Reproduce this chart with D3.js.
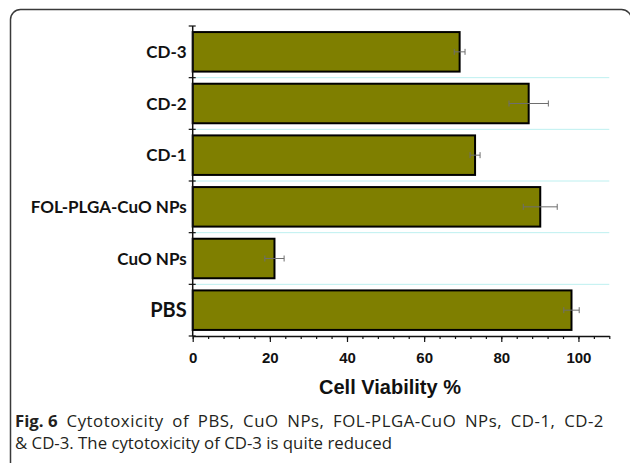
<!DOCTYPE html>
<html>
<head>
<meta charset="utf-8">
<script src="https://cdn.jsdelivr.net/npm/d3@7"></script>
<style>
  body { margin: 0; background: #fff; }
</style>
</head>
<body>
<div id="chart"></div>
<script>
// categories listed top to bottom as drawn
var categories = ["CD-3", "CD-2", "CD-1", "FOL-PLGA-CuO NPs", "CuO NPs", "PBS"];
var viability = [69.2, 87.1, 73.2, 90.1, 21.2, 98.2];
var errors = [1.4, 5.1, 1.3, 4.4, 2.5, 2.0];
var xMajorTicks = [0, 20, 40, 60, 80, 100];
var xLabel = "Cell Viability %";
var captionBold = "Fig. 6";
var captionLine1 = "Cytotoxicity of PBS, CuO NPs, FOL-PLGA-CuO NPs, CD-1, CD-2";
var captionLine2 = "& CD-3. The cytotoxicity of CD-3 is quite reduced";

const WIDTH = 630;
const HEIGHT = 463;
const PLOT_LEFT = 192.7;
const PLOT_RIGHT = 609.3;
const PLOT_TOP = 26;
const PLOT_BOTTOM = 336;

var svg = d3.select("#chart")
    .append("svg")
    .attr("width", WIDTH)
    .attr("height", HEIGHT);

// figure frame (rounded, runs off the bottom edge)
svg.append("rect")
    .attr("x", 10.5)
    .attr("y", 9.5)
    .attr("width", 621)
    .attr("height", 500)
    .attr("rx", 10)
    .attr("fill", "none")
    .attr("stroke", "#3a3a3a")
    .attr("stroke-width", 1.5);

var xScale = d3.scaleLinear().domain([0, 108]).range([PLOT_LEFT, PLOT_RIGHT]);
var yScale = d3.scaleBand()
    .domain(categories)
    .range([PLOT_TOP, PLOT_BOTTOM])
    .paddingInner(0.235)
    .paddingOuter(0.1175);

var step = yScale.step();
var boundaries = d3.range(categories.length + 1).map(function (i) { return PLOT_TOP + i * step; });

// light cyan separators between categories
svg.append("g")
    .selectAll("line")
    .data(boundaries.slice(1, -1))
    .enter()
    .append("line")
    .attr("x1", PLOT_LEFT)
    .attr("x2", PLOT_RIGHT)
    .attr("y1", function (d) { return d; })
    .attr("y2", function (d) { return d; })
    .attr("stroke", "#bdf0f0")
    .attr("stroke-width", 1);

// bars
svg.append("g")
    .selectAll("rect")
    .data(categories)
    .enter()
    .append("rect")
    .attr("x", xScale(0))
    .attr("y", function (d) { return yScale(d); })
    .attr("width", function (d, i) { return xScale(viability[i]) - xScale(0); })
    .attr("height", yScale.bandwidth())
    .attr("fill", "#7f7f00")
    .attr("stroke", "#000")
    .attr("stroke-width", 2);

// error bars
var eb = svg.append("g")
    .selectAll("g")
    .data(categories)
    .enter()
    .append("g")
    .attr("stroke", "#6e6e6e")
    .attr("stroke-width", 1);

eb.append("line")
    .attr("x1", function (d, i) { return xScale(viability[i] - errors[i]); })
    .attr("x2", function (d, i) { return xScale(viability[i] + errors[i]); })
    .attr("y1", function (d) { return yScale(d) + yScale.bandwidth() / 2; })
    .attr("y2", function (d) { return yScale(d) + yScale.bandwidth() / 2; });

[-1, 1].forEach(function (s) {
    eb.append("line")
        .attr("x1", function (d, i) { return xScale(viability[i] + s * errors[i]); })
        .attr("x2", function (d, i) { return xScale(viability[i] + s * errors[i]); })
        .attr("y1", function (d) { return yScale(d) + yScale.bandwidth() / 2 - 3; })
        .attr("y2", function (d) { return yScale(d) + yScale.bandwidth() / 2 + 3; });
});

// x axis: minor ticks every 4, major every 20
svg.append("g")
    .attr("transform", "translate(0," + PLOT_BOTTOM + ")")
    .call(d3.axisBottom(xScale).tickValues(d3.range(0, 109, 4)).tickSize(3).tickSizeOuter(0).tickFormat(""))
    .call(function (g) {
        g.select(".domain").attr("stroke", "#111").attr("stroke-width", 1.5);
        g.selectAll(".tick line").attr("stroke", "#111").attr("stroke-width", 1.2);
    });

svg.append("g")
    .attr("transform", "translate(0," + PLOT_BOTTOM + ")")
    .call(d3.axisBottom(xScale).tickValues(xMajorTicks).tickSize(6).tickSizeOuter(0).tickPadding(10).tickFormat(d3.format("d")))
    .call(function (g) {
        g.select(".domain").remove();
        g.selectAll(".tick line").attr("stroke", "#111").attr("stroke-width", 1.2);
        g.selectAll(".tick text")
            .attr("fill", "#111")
            .style("font-family", "'Liberation Sans', Arial, sans-serif")
            .style("font-weight", "bold")
            .style("font-size", "15px");
    });

// y axis line and boundary ticks
svg.append("line")
    .attr("x1", PLOT_LEFT).attr("x2", PLOT_LEFT)
    .attr("y1", PLOT_TOP).attr("y2", PLOT_BOTTOM)
    .attr("stroke", "#111")
    .attr("stroke-width", 1.5);

svg.append("g")
    .selectAll("line")
    .data(boundaries)
    .enter()
    .append("line")
    .attr("x1", PLOT_LEFT - 4)
    .attr("x2", PLOT_LEFT + 3)
    .attr("y1", function (d) { return d; })
    .attr("y2", function (d) { return d; })
    .attr("stroke", "#111")
    .attr("stroke-width", 1.2);

// category labels
svg.append("g")
    .selectAll("text")
    .data(categories)
    .enter()
    .append("text")
    .attr("x", PLOT_LEFT - 6)
    .attr("y", function (d) { return yScale(d) + yScale.bandwidth() / 2; })
    .attr("dy", "0.36em")
    .attr("text-anchor", "end")
    .attr("fill", "#111")
    .style("font-family", "Lato, 'Open Sans', sans-serif")
    .style("font-weight", "bold")
    .style("font-size", function (d) { return d === "PBS" ? "20px" : "17px"; })
    .text(function (d) { return d; });

// x axis title
svg.append("text")
    .attr("x", 390)
    .attr("y", 394)
    .attr("text-anchor", "middle")
    .attr("fill", "#111")
    .style("font-family", "'Liberation Sans', Arial, sans-serif")
    .style("font-weight", "bold")
    .style("font-size", "20px")
    .text(xLabel);

// caption: first line justified to the frame width
var cap = svg.append("text")
    .attr("x", 15)
    .attr("y", 427)
    .attr("fill", "#231f20")
    .style("font-family", "'Open Sans', sans-serif")
    .style("font-size", "16.8px");
cap.append("tspan").style("font-weight", "bold").text(captionBold);
var rest = cap.append("tspan").attr("dx", 9).text(captionLine1);

var natural = rest.node().getComputedTextLength() + cap.select("tspan").node().getComputedTextLength() + 9;
var spaces = (captionLine1.match(/ /g) || []).length;
var slack = 604 - 15 - natural;
if (slack > 0) {
    var ls = slack * 0.5 / captionLine1.length;
    rest.style("letter-spacing", ls + "px")
        .style("word-spacing", (slack * 0.5 / spaces) + "px");
}

svg.append("text")
    .attr("x", 15)
    .attr("y", 449)
    .attr("fill", "#231f20")
    .style("font-family", "'Open Sans', sans-serif")
    .style("font-size", "16.8px")
    .text(captionLine2);
</script>
</body>
</html>
